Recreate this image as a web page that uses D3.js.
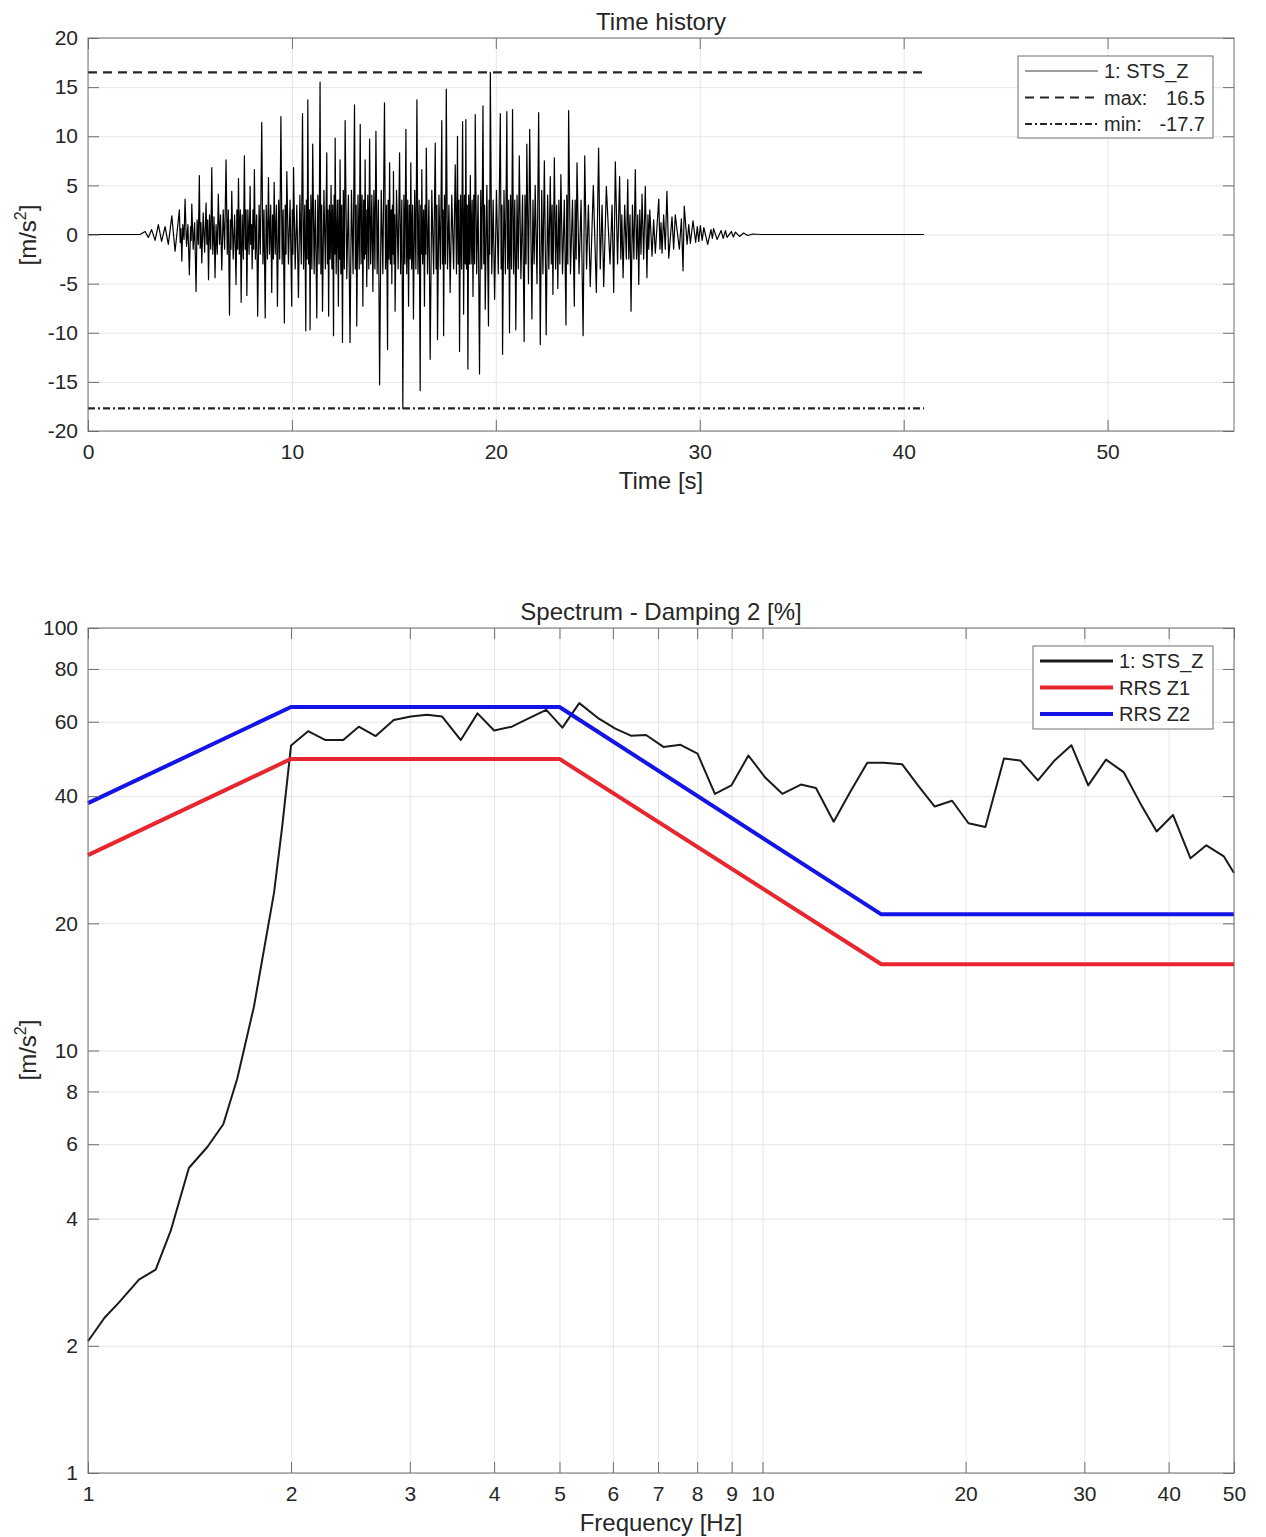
<!DOCTYPE html>
<html>
<head>
<meta charset="utf-8">
<script src="https://cdn.jsdelivr.net/npm/d3@7"></script>
<style>
    body { margin: 0; background: #ffffff; }
    svg text { font-family: "Liberation Sans", Arial, Helvetica, sans-serif; fill: #262626; }
</style>
</head>
<body>
<div id="chart"></div>
<script>
// ---- time history (peaks and wiggles, s / m/s2) ----
const thTime = [
    0, 2.55, 2.80, 2.96, 3.12, 3.29, 3.45, 3.61, 3.78, 3.94,
    4.11, 4.27, 4.48,
    4.52, 4.56, 4.60, 4.65, 4.71, 4.76, 4.83, 4.90, 4.97, 5.03,
    5.06, 5.09, 5.16, 5.23, 5.30, 5.35, 5.41, 5.46, 5.50, 5.54,
    5.58, 5.65, 5.72, 5.79, 5.83, 5.87, 5.91, 5.96, 6.02, 6.07,
    6.12, 6.18, 6.23, 6.28, 6.34, 6.39, 6.45, 6.50, 6.56, 6.63,
    6.70, 6.77, 6.83, 6.88, 6.94, 6.98, 7.01, 7.05, 7.12, 7.19,
    7.26, 7.30, 7.34, 7.38, 7.42, 7.47, 7.51, 7.56, 7.62, 7.67,
    7.71, 7.75, 7.79, 7.84, 7.90, 7.95, 7.98, 8.02, 8.05, 8.09,
    8.12, 8.16, 8.21, 8.27, 8.32, 8.39, 8.45, 8.52, 8.58, 8.63,
    8.69, 8.74, 8.80, 8.85, 8.90, 8.96, 9.01, 9.05, 9.09, 9.13,
    9.18, 9.24, 9.29, 9.35, 9.40, 9.46, 9.52, 9.57, 9.63, 9.67,
    9.71, 9.75, 9.83, 9.91,
    9.99, 10.02, 10.05, 10.08, 10.16, 10.24, 10.32, 10.39, 10.46, 10.52,
    10.57, 10.63, 10.68, 10.71, 10.75, 10.78, 10.82, 10.86, 10.89, 10.93,
    10.98, 11.02, 11.09, 11.15, 11.22, 11.27, 11.33, 11.38, 11.42, 11.46,
    11.50, 11.57, 11.64, 11.71, 11.74, 11.77, 11.80, 11.84, 11.88, 11.92,
    11.96, 12.00, 12.04, 12.07, 12.10, 12.12, 12.17, 12.23, 12.28, 12.31,
    12.34, 12.36, 12.40, 12.44, 12.48, 12.52, 12.57, 12.61, 12.69, 12.77,
    12.85, 12.92, 13.00, 13.07, 13.11, 13.15, 13.18, 13.24, 13.30, 13.35,
    13.39, 13.44, 13.48, 13.52, 13.56, 13.59, 13.62, 13.64, 13.67, 13.72,
    13.77, 13.81, 13.86, 13.92, 13.97, 14.02, 14.07, 14.12, 14.18, 14.24,
    14.30, 14.38, 14.46, 14.54, 14.59, 14.64, 14.69, 14.72, 14.76, 14.79,
    14.83, 14.87, 14.90, 14.93, 14.96, 14.98, 15.01, 15.04, 15.06, 15.13,
    15.21, 15.28, 15.33, 15.39, 15.44, 15.49, 15.54, 15.59, 15.63, 15.68,
    15.72, 15.76, 15.80, 15.83, 15.87, 15.92, 15.96, 16.02, 16.08, 16.13,
    16.18, 16.24, 16.29, 16.32, 16.35, 16.37, 16.41, 16.46, 16.50, 16.53,
    16.56, 16.59, 16.65, 16.72, 16.78, 16.86, 16.95, 17.03, 17.07, 17.11,
    17.14, 17.21, 17.28, 17.35, 17.38, 17.41, 17.44, 17.48, 17.53, 17.57,
    17.63, 17.70, 17.76, 17.84, 17.93, 18.01, 18.07, 18.12, 18.15, 18.19,
    18.22, 18.27, 18.32, 18.37, 18.42, 18.46, 18.50, 18.53, 18.56, 18.60,
    18.63, 18.67, 18.71, 18.75, 18.79, 18.84, 18.88, 18.92, 18.96, 18.99,
    19.06, 19.13, 19.20, 19.26, 19.31, 19.37, 19.41, 19.45, 19.48, 19.56,
    19.64, 19.67, 19.70, 19.73, 19.80, 19.87, 19.94, 20.03, 20.12, 20.22,
    20.26, 20.30, 20.33, 20.40, 20.47, 20.54, 20.58, 20.63, 20.67, 20.72,
    20.77, 20.82, 20.87, 20.93, 20.98, 21.04, 21.10, 21.15, 21.23, 21.31,
    21.39, 21.43, 21.48, 21.52, 21.60, 21.66, 21.77, 21.82, 21.88, 21.93,
    22.02, 22.10, 22.18, 22.25, 22.31, 22.38, 22.47, 22.54, 22.60, 22.67,
    22.72, 22.76, 22.80, 22.87, 22.93, 22.98, 23.04, 23.09, 23.14, 23.19,
    23.27, 23.36, 23.44, 23.48, 23.53, 23.57, 23.66, 23.76, 23.85, 23.89,
    23.94, 23.98, 24.08, 24.18, 24.28, 24.36, 24.45, 24.54, 24.63, 24.78,
    24.93, 25.04, 25.12, 25.21, 25.29, 25.42,
    25.60, 25.70, 25.78, 25.86, 25.97, 26.07, 26.13, 26.18, 26.24, 26.32,
    26.40, 26.47, 26.52, 26.58, 26.63, 26.70, 26.77, 26.84, 26.90, 26.96,
    27.01, 27.06, 27.12, 27.17, 27.25, 27.33, 27.41, 27.46, 27.50, 27.55,
    27.66, 27.74, 27.82, 27.99, 28.05, 28.10, 28.15, 28.23, 28.31, 28.39,
    28.48, 28.64, 28.72, 28.80, 29.00, 29.10, 29.18, 29.24, 29.38, 29.46,
    29.54, 29.67, 29.80, 29.88, 29.95, 30.03, 30.12, 30.20, 30.39, 30.55,
    30.62, 30.68, 30.85, 31.05, 31.15, 31.26, 31.34, 31.55, 31.65, 31.75,
    31.95, 32.15, 32.35, 32.60, 33.00, 41.00
];
const thAccel = [
    0, 0, 0.3, -0.3, 0.5, -0.6, 1.0, -0.7, 0.8, -1.0,
    1.9, -1.7, 2.5,
    -0.8, 0.6, -2.7, 1.0, -0.5, 3.6, -1.2, 1.0, -4.1, 0.8,
    -0.6, 3.1, -1.5, 1.2, -5.8, 1.5, -1.0, 6.0, -1.4, 1.2,
    -2.9, 2.2, -1.8, 3.2, -1.0, 1.5, -4.6, 2.0, -1.5, 6.8,
    -2.0, 1.8, -4.4, 1.0, -2.0, 4.1, -1.0, 2.0, -3.6, 2.5,
    -1.5, 7.6, -2.0, 2.5, -8.2, 1.5, -1.5, 4.4, -2.5, 2.0,
    -5.1, 2.5, -1.5, 5.7, -2.0, 2.5, -6.9, 2.0, -2.5, 8.0,
    -1.5, 2.5, -6.2, 2.5, -2.0, 4.9, -1.0, 1.0, -3.5, 2.5,
    -1.5, 6.6, -2.5, 2.0, -8.3, 3.0, -2.0, 11.4, -3.0, 2.5,
    -8.5, 3.0, -2.5, 5.8, -2.0, 3.0, -5.9, 2.0, -2.5, 5.3,
    -2.0, 3.0, -7.3, 3.5, -2.5, 12.0, -3.0, 2.5, -9.0, 3.0,
    -2.0, 6.4, -3.0, 3.5,
    -7.3, 2.5, -2.0, 6.8, -3.5, 3.0, -6.4, 4.0, -3.0, 12.3,
    -3.5, 3.0, -9.8, 3.5, -2.5, 13.7, -3.0, 2.5, -9.7, 4.0,
    -3.5, 9.2, -4.0, 3.5, -8.5, 4.0, -3.0, 15.5, -4.0, 3.0,
    -7.8, 4.5, -3.5, 8.3, -3.0, 2.5, -8.3, 3.0, -2.5, 5.0,
    -3.5, 3.0, -10.3, 4.0, -2.0, 9.8, -4.0, 3.5, -7.3, 3.5,
    -2.5, 7.6, -4.0, 3.0, -11.0, 4.5, -3.5, 11.6, -4.5, 4.0,
    -11.0, 4.5, -4.0, 13.2, -3.5, 3.0, -9.3, 4.0, -3.5, 11.2,
    -3.0, 4.0, -7.3, 3.5, -2.5, 7.6, -2.0, 2.5, -5.3, 4.0,
    -3.5, 9.7, -3.0, 4.0, -5.8, 4.5, -3.5, 10.5, -4.0, 3.5,
    -15.3, 4.5, -4.0, 13.4, -3.5, 3.0, -11.7, 3.5, -2.5, 7.3,
    -3.0, 2.5, -5.0, 3.0, -2.0, 6.4, -3.0, 2.0, -7.8, 4.5,
    -3.5, 8.3, -4.0, 3.5, -17.7, 4.0, -3.0, 10.7, -4.0, 3.5,
    -7.3, 3.0, -2.5, 7.3, -3.5, 3.0, -8.6, 4.5, -3.5, 13.7,
    -4.0, 3.5, -15.9, 3.0, -2.0, 6.6, -3.0, 2.5, -7.3, 3.0,
    -2.0, 8.8, -4.0, 3.5, -12.7, 4.5, -4.0, 9.3, -3.5, 3.0,
    -10.7, 4.0, -3.5, 11.6, -3.0, 2.5, -10.3, 4.0, -3.0, 14.8,
    -3.5, 3.0, -5.9, 4.0, -3.5, 7.1, -4.0, 10.0, -3.0, 3.5,
    -11.9, 4.0, -3.5, 11.5, -8.1, 4.0, -3.0, 11.7, -3.5, 3.0,
    -13.7, 4.0, -3.0, 6.0, -3.0, 3.5, -6.3, 4.0, -3.0, 12.2,
    -4.0, 4.0, -14.2, 4.5, -3.5, 13.1, -3.0, 3.0, -7.6, 5.0,
    -9.3, 3.5, -2.0, 16.5, -4.0, 3.5, -6.6, 4.5, -4.0, 12.3,
    -3.5, 3.0, -12.2, 4.5, -4.0, 12.5, -3.5, 3.5, -10.0, 4.0,
    -3.5, 12.7, -4.0, 3.5, -9.7, 4.0, -3.5, 8.0, -4.5, 4.0,
    -10.9, 4.0, -3.0, 9.2, -5.0, 10.7, -8.6, 3.5, -3.0, 5.0,
    -5.0, 12.4, -11.2, 4.5, -4.0, 7.5, -10.2, 4.0, -3.5, 5.9,
    -3.0, 3.0, -6.1, 7.8, -3.5, 3.0, -5.5, 3.5, -3.0, 6.1,
    -4.0, 3.5, -9.2, 4.0, -3.0, 12.6, -4.0, 3.5, -7.3, 3.5,
    -2.5, 7.3, -4.0, 3.5, -10.3, 8.0, -3.5, 3.0, -5.3, 5.0,
    -5.9, 8.8, -3.5, 3.0, -5.3, 4.9,
    -3.0, 3.0, -5.9, 7.4, -3.0, 5.9, -2.5, 2.0, -4.4, 3.0,
    -2.5, 5.6, -2.5, 2.0, -7.8, 3.0, -2.5, 6.6, -2.5, 2.0,
    -5.1, 2.5, -2.0, 4.1, -2.5, 4.9, -4.4, 2.0, -1.5, 2.5,
    -2.2, 1.5, -1.9, 3.6, -1.5, 1.2, -1.9, 2.0, -1.5, 4.4,
    -2.4, 1.8, -1.5, 2.0, -1.5, 1.6, -3.7, 2.9, -1.0, 1.0,
    -0.9, 1.4, -0.8, 0.8, -0.7, 0.9, -0.6, 0.7, -1.0, 0.5,
    -0.4, 0.6, -0.5, 0.4, -0.4, 0.4, -0.3, 0.3, -0.25, 0.25,
    -0.2, 0.15, -0.1, 0.05, 0, 0
];
const thMax = 16.5;
const thMin = -17.7;
const thEnd = 41;

// ---- response spectrum, damping 2 % ----
const specFreq = [
    1.0, 1.058, 1.111, 1.19, 1.26, 1.326, 1.411, 1.503, 1.587, 1.665,
    1.762, 1.887, 1.94, 2.0, 2.12, 2.25, 2.39, 2.52, 2.67, 2.84,
    3.01, 3.18, 3.35, 3.57, 3.78, 4.0, 4.25, 4.5, 4.78, 5.05,
    5.35, 5.72, 6.05, 6.38, 6.72, 7.13, 7.56, 8.01, 8.5, 8.99,
    9.53, 10.1, 10.7, 11.4, 12.0, 12.75, 13.5, 14.3, 15.1, 16.1,
    17.0, 18.0, 19.1, 20.2, 21.4, 22.8, 24.1, 25.6, 27.1, 28.7,
    30.4, 32.3, 34.3, 36.3, 38.4, 40.6, 43.1, 45.5, 48.3, 50.0
];
const specAccel = [
    2.05, 2.33, 2.53, 2.87, 3.03, 3.74, 5.27, 5.91, 6.69, 8.6,
    12.7, 23.6, 33.8, 52.7, 57.0, 54.3, 54.3, 58.4, 55.5, 60.6,
    61.7, 62.3, 61.7, 54.3, 62.8, 57.2, 58.4, 61.1, 64.0, 58.1,
    66.4, 61.0, 57.8, 55.6, 55.8, 52.3, 52.9, 50.4, 40.5, 42.4,
    49.9, 44.2, 40.5, 42.6, 41.8, 34.8, 41.0, 48.0, 48.0, 47.6,
    42.4, 37.8, 39.0, 34.5, 33.8, 49.1, 48.6, 43.6, 48.6, 52.8,
    42.4, 48.8, 45.6, 38.5, 33.0, 36.1, 28.5, 30.6, 28.8, 26.3
];
const rrsFreq = [1, 2, 5, 15, 50];
const rrsZ1 = [29, 49, 49, 16, 16];
const rrsZ2 = [38.5, 65, 65, 21, 21];

// ---- ticks ----
const timeTicks = [0, 10, 20, 30, 40, 50];
const accelTicks = [-20, -15, -10, -5, 0, 5, 10, 15, 20];
const freqTicks = [1, 2, 3, 4, 5, 6, 7, 8, 9, 10, 20, 30, 40, 50];
const specTicks = [1, 2, 4, 6, 8, 10, 20, 40, 60, 80, 100];


class PlotPanel {
    constructor(svg, box, xScale, yScale) {
        this.svg = svg;
        this.box = box;
        this.x = xScale;
        this.y = yScale;
        this.tickLen = 11;
        this.g = svg.append("g");
    }

    // light grid lines behind the data
    drawGrid(xTicks, yTicks) {
        const b = this.box;
        this.g.append("g")
            .attr("transform", `translate(0,${b.bottom})`)
            .call(d3.axisBottom(this.x).tickValues(xTicks).tickSize(-(b.bottom - b.top)).tickFormat(""))
            .call(g => g.select(".domain").remove())
            .call(g => g.selectAll("line").attr("stroke", "#e6e6e6"));
        this.g.append("g")
            .attr("transform", `translate(${b.left},0)`)
            .call(d3.axisLeft(this.y).tickValues(yTicks).tickSize(-(b.right - b.left)).tickFormat(""))
            .call(g => g.select(".domain").remove())
            .call(g => g.selectAll("line").attr("stroke", "#e6e6e6"));
    }

    // box with inward ticks on all four sides, labels left and bottom
    drawFrame(xTicks, yTicks) {
        const b = this.box;
        const t = this.tickLen;
        const style = g => {
            g.select(".domain").remove();
            g.selectAll("line").attr("stroke", "#6e6e6e");
            g.selectAll("text").attr("font-size", 21).attr("fill", "#262626")
                .style("font-family", "'Liberation Sans', Arial, sans-serif");
        };
        this.g.append("g")
            .attr("transform", `translate(0,${b.bottom})`)
            .call(d3.axisBottom(this.x).tickValues(xTicks).tickSizeInner(-t).tickSizeOuter(0)
                .tickPadding(13).tickFormat(d => String(d)))
            .call(style);
        this.g.append("g")
            .attr("transform", `translate(0,${b.top})`)
            .call(d3.axisTop(this.x).tickValues(xTicks).tickSizeInner(-t).tickSizeOuter(0).tickFormat(""))
            .call(style);
        this.g.append("g")
            .attr("transform", `translate(${b.left},0)`)
            .call(d3.axisLeft(this.y).tickValues(yTicks).tickSizeInner(-t).tickSizeOuter(0)
                .tickPadding(10).tickFormat(d => String(d)))
            .call(style);
        this.g.append("g")
            .attr("transform", `translate(${b.right},0)`)
            .call(d3.axisRight(this.y).tickValues(yTicks).tickSizeInner(-t).tickSizeOuter(0).tickFormat(""))
            .call(style);
        this.g.append("rect")
            .attr("x", b.left).attr("y", b.top)
            .attr("width", b.right - b.left).attr("height", b.bottom - b.top)
            .attr("fill", "none").attr("stroke", "#6e6e6e").attr("stroke-width", 1);
    }

    drawLine(xs, ys, color, width, dash) {
        const line = d3.line().x(d => this.x(d[0])).y(d => this.y(d[1]));
        this.g.append("path")
            .datum(d3.zip(xs, ys))
            .attr("d", line)
            .attr("fill", "none")
            .attr("stroke", color)
            .attr("stroke-width", width)
            .attr("stroke-linejoin", "round")
            .attr("stroke-dasharray", dash || null);
    }

    drawTitles(title, xLabel, titleY, xLabelY, yLabelY) {
        const b = this.box;
        const cx = (b.left + b.right) / 2;
        this.g.append("text")
            .attr("x", cx).attr("y", titleY)
            .attr("text-anchor", "middle").attr("font-size", 24)
            .text(title);
        this.g.append("text")
            .attr("x", cx).attr("y", xLabelY)
            .attr("text-anchor", "middle").attr("font-size", 24)
            .text(xLabel);
        // y label with superscript
        const yl = this.g.append("text")
            .attr("transform", `translate(36,${yLabelY}) rotate(-90)`)
            .attr("text-anchor", "middle").attr("font-size", 24);
        yl.append("tspan").text("[m/s");
        yl.append("tspan").attr("font-size", 16).attr("dy", -10).text("2");
        yl.append("tspan").attr("dy", 10).text("]");
    }

    drawLegend(lb, rows) {
        const lg = this.g.append("g");
        lg.append("rect")
            .attr("x", lb.x).attr("y", lb.y).attr("width", lb.w).attr("height", lb.h)
            .attr("fill", "#ffffff").attr("stroke", "#6e6e6e");
        rows.forEach((r, i) => {
            const yy = lb.y + 15 + i * 26.5;
            lg.append("line")
                .attr("x1", lb.x + 7).attr("x2", lb.x + 80)
                .attr("y1", yy).attr("y2", yy)
                .attr("stroke", r.color).attr("stroke-width", r.width)
                .attr("stroke-dasharray", r.dash || null);
            lg.append("text")
                .attr("x", lb.x + 86).attr("y", yy + 7)
                .attr("font-size", 20)
                .text(r.label);
            if (r.value) {
                lg.append("text")
                    .attr("x", lb.x + lb.w - 8).attr("y", yy + 7)
                    .attr("text-anchor", "end").attr("font-size", 20)
                    .text(r.value);
            }
        });
    }
}


const svg = d3.select("#chart").append("svg")
    .attr("width", 1266)
    .attr("height", 1537);
svg.append("rect").attr("width", 1266).attr("height", 1537).attr("fill", "#ffffff");

// ---- Time history ----
const topBox = {left: 88, right: 1234, top: 38, bottom: 431};
const th = new PlotPanel(svg, topBox,
    d3.scaleLinear().domain([0, 56.2]).range([topBox.left, topBox.right]),
    d3.scaleLinear().domain([-20, 20]).range([topBox.bottom, topBox.top]));
th.drawGrid(timeTicks, accelTicks);
th.drawLine(thTime, thAccel, "#000000", 1.2);
th.drawLine([0, thEnd], [thMax, thMax], "#262626", 2.2, "9,6");
th.drawLine([0, thEnd], [thMin, thMin], "#262626", 2.2, "7,3,2,3");
th.drawFrame(timeTicks, accelTicks);
th.drawTitles("Time history", "Time [s]", 30, 489, 235);
th.drawLegend({x: 1018, y: 56, w: 195, h: 82}, [
    {label: "1: STS_Z", color: "#404040", width: 1},
    {label: "max:", value: String(thMax), color: "#262626", width: 2.2, dash: "9,6"},
    {label: "min:", value: String(thMin), color: "#262626", width: 2.2, dash: "7,3,2,3"}
]);

// ---- Spectrum ----
const botBox = {left: 88, right: 1234, top: 628, bottom: 1473};
const sp = new PlotPanel(svg, botBox,
    d3.scaleLog().domain([1, 50]).range([botBox.left, botBox.right]),
    d3.scaleLog().domain([1, 100]).range([botBox.bottom, botBox.top]));
sp.drawGrid(freqTicks, specTicks);
sp.drawLine(specFreq, specAccel, "#1a1a1a", 2);
sp.drawLine(rrsFreq, rrsZ1, "#e8262f", 4);
sp.drawLine(rrsFreq, rrsZ2, "#1414e6", 4);
sp.drawFrame(freqTicks, specTicks);
sp.drawTitles("Spectrum - Damping 2 [%]", "Frequency [Hz]", 620, 1531, 1050);
sp.drawLegend({x: 1033, y: 646, w: 180, h: 83}, [
    {label: "1: STS_Z", color: "#1a1a1a", width: 3},
    {label: "RRS Z1", color: "#e8262f", width: 4},
    {label: "RRS Z2", color: "#1414e6", width: 4}
]);
</script>
</body>
</html>
